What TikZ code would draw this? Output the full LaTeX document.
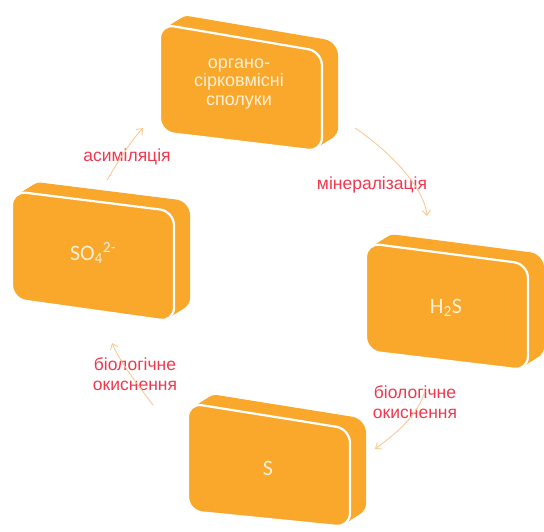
\documentclass[tikz,border=0pt]{standalone}
\usepackage{fontspec}
\setmainfont{Liberation Sans}
\newfontfamily\chemfont{Carlito}
\usetikzlibrary{arrows.meta}
\definecolor{brickorange}{RGB}{249,168,43}
\definecolor{bricktext}{RGB}{255,240,215}
\definecolor{labelred}{RGB}{240,56,78}
\definecolor{arrowtan}{RGB}{247,202,148}
% #1 x, #2 y (front top-left), #3 top slope, #4 bottom slope
\newcommand\brick[4]{%
  \foreach \sw in {0,0.1,...,1.01}{%
    \fill[brickfill, shift={({16*\sw},{-10*\sw})}] (#1,#2) -- ({#1+162},{#2+162*#3}) -- ({#1+162},{#2+108+162*#4}) -- (#1,{#2+108}) -- cycle;
  }
  \path[brickfront] (#1,#2) -- ({#1+162},{#2+162*#3}) -- ({#1+162},{#2+108+162*#4}) -- (#1,{#2+108}) -- cycle;
}
\begin{document}
\begin{tikzpicture}[x=1pt,y=-1pt,
  brickfill/.style={fill=brickorange, rounded corners=14pt},
  brickfront/.style={fill=brickorange, draw=white, line width=2.2pt, rounded corners=14pt},
  bricktxt/.style={text=bricktext, font=\fontsize{18}{18.5}\selectfont, align=center, inner sep=0pt},
  chemtxt/.style={text=bricktext, font=\chemfont\fontsize{22}{24}\selectfont, inner sep=0pt},
  steplabel/.style={text=labelred, font=\fontsize{17.5}{20}\selectfont, align=center, inner sep=0pt},
  cyclearrow/.style={draw=arrowtan, line width=0.9pt, -{Straight Barb[length=5pt,width=8pt]}},
]
\useasboundingbox (0,0) rectangle (544,531);

% bricks
\brick{160}{24}{0.17}{0.12}
\brick{12}{191}{0.125}{0.14}
\brick{366}{243}{0.13}{0.12}
\brick{188}{403}{0.16}{0.10}

% brick texts
\node[bricktxt] (org) at (239,84) {органо-\\сірковмісні\\сполуки};
\node[chemtxt] (so4) at (93,253) {SO\textsubscript{4}\textsuperscript{2-}};
\node[chemtxt] (h2s) at (446,308) {H\textsubscript{2}S};
\node[chemtxt] (s) at (268,468) {S};

% labels
\node[steplabel] (lmin) at (372,185) {мінералізація};
\node[steplabel] (lasm) at (127,157) {асиміляція};
\node[steplabel] (lbl) at (135,374) {біологічне\\окиснення};
\node[steplabel] (lbr) at (415,402) {біологічне\\окиснення};

% arrow end points
\coordinate (m1) at (355,128);
\coordinate (m2) at (427,216);
\coordinate (r1) at (425,391);
\coordinate (r2) at (375,449);
\coordinate (l1) at (153,405);
\coordinate (l2) at (112,343);
\coordinate (a1) at (107,180);
\coordinate (a2) at (143,128);

\draw[cyclearrow] (m1) .. controls (385,148) and (424,185) .. (m2);
\draw[cyclearrow] (r1) .. controls (418,415) and (398,432) .. (r2);
\draw[cyclearrow] (l1) .. controls (138,385) and (120,362) .. (l2);
\draw[cyclearrow] (a1) .. controls (118,162) and (130,142) .. (a2);
\end{tikzpicture}
\end{document}
